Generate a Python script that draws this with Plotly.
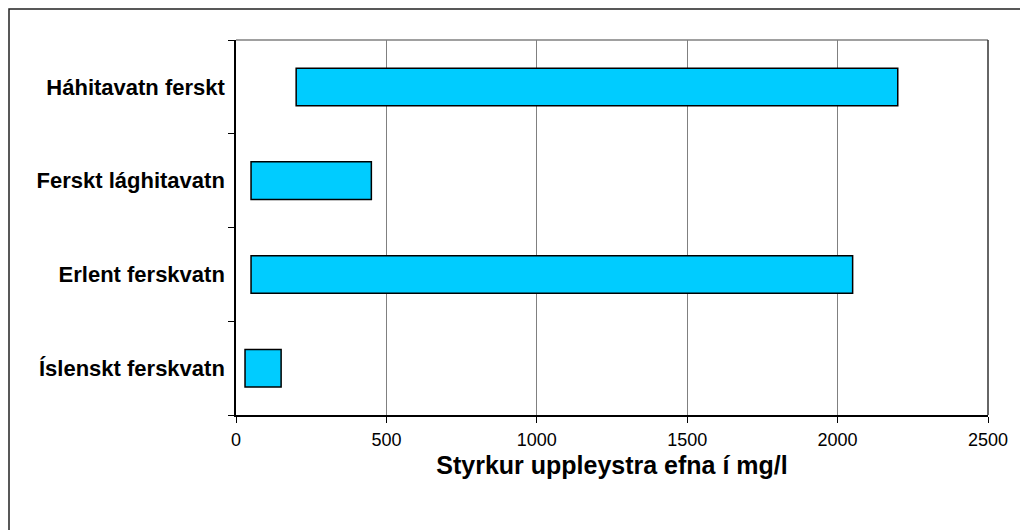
import plotly.graph_objects as go

categories = ["Íslenskt ferskvatn", "Erlent ferskvatn", "Ferskt lághitavatn", "Háhitavatn ferskt"]
low_values = [30, 50, 50, 200]
high_values = [150, 2050, 450, 2200]
x_ticks = [0, 500, 1000, 1500, 2000, 2500]

lengths = [h - l for l, h in zip(low_values, high_values)]

fig = go.Figure()
fig.add_trace(go.Bar(
    y=categories, x=lengths, base=low_values, orientation="h",
    width=0.4,
    marker=dict(color="#00CCFF", line=dict(color="#000000", width=1.5)),
    hoverinfo="skip",
))

L, R, T, B = 228, 48, 32, 123
W, H = 1028, 530
pw = W - L - R
ph = H - T - B

fig.update_layout(
    width=W, height=H,
    margin=dict(l=L, r=R, t=T, b=B, pad=0),
    paper_bgcolor="white", plot_bgcolor="white",
    showlegend=False,
    font=dict(family="Liberation Sans, Arial, sans-serif", color="black"),
    xaxis=dict(
        range=[0, 2500], tickvals=x_ticks, ticktext=[str(v) for v in x_ticks],
        showgrid=True, gridcolor="#808080", gridwidth=1,
        zeroline=False,
        showline=True, linecolor="black", linewidth=1.5,
        ticks="outside", ticklen=6, tickcolor="black",
        tickfont=dict(size=18, color="black"),
        ticklabelstandoff=2,
        title=dict(text="Styrkur uppleystra efna í mg/l",
                   font=dict(size=25, color="black", weight="bold"), standoff=7),
        fixedrange=True,
    ),
    yaxis=dict(
        type="category", categoryorder="array", categoryarray=categories,
        range=[-0.5, 3.5],
        showgrid=False, zeroline=False,
        showline=True, linecolor="black", linewidth=1.5,
        ticks="outside", ticklen=6, tickcolor="black", tickson="boundaries",
        tickfont=dict(size=22, color="black", weight="bold"),
        ticklabelstandoff=5,
        fixedrange=True,
    ),
)

# plot area top and right borders
fig.add_shape(type="line", xref="paper", yref="paper", x0=0, x1=1, y0=1, y1=1,
              line=dict(color="#808080", width=1.5))
fig.add_shape(type="line", xref="paper", yref="paper", x0=1, x1=1, y0=0, y1=1,
              line=dict(color="#333333", width=1.5))
# outer chart frame at the figure edge (right and bottom fall outside the window)
fig.add_shape(type="rect", xref="paper", yref="paper",
              x0=(1 - L) / pw, x1=(W - 1 - L) / pw,
              y0=-(H - 1 - (T + ph)) / ph, y1=1 + (T - 1) / ph,
              line=dict(color="#222222", width=1.5), fillcolor="rgba(0,0,0,0)", layer="below")

fig.write_html("out.html")
